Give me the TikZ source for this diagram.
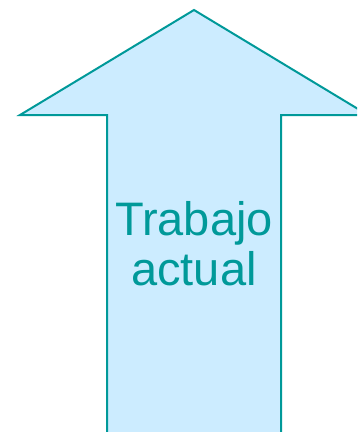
\documentclass[tikz,border=0pt]{standalone}
\usepackage{fontspec}
\setmainfont{Liberation Sans}
\definecolor{arrowfill}{HTML}{CCECFF}
\definecolor{arrowline}{HTML}{009999}
\begin{document}
\begin{tikzpicture}[x=1pt,y=-1pt,
  arrowshape/.style={fill=arrowfill,draw=arrowline,line width=2pt,line join=miter},
  label/.style={text=arrowline,font=\fontsize{47}{50}\selectfont,align=center,inner sep=0pt}]
\useasboundingbox (0,0) rectangle (357,432);
\clip (0,0) rectangle (357,432);
\draw[arrowshape] (194,10) -- (368,115) -- (281,115) -- (281,450) -- (107,450) -- (107,115) -- (20,115) -- cycle;
\node[label,anchor=base] (t1) at (194,235) {Trabajo};
\node[label,anchor=base] (t2) at (194,285) {actual};
\end{tikzpicture}
\end{document}
